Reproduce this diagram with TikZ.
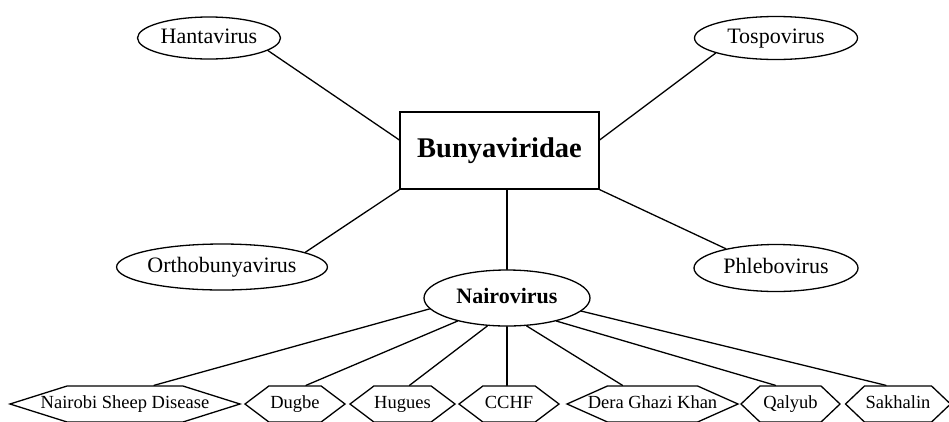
\documentclass[tikz,border=0pt]{standalone}
\usepackage{fontspec}
\setmainfont{Liberation Serif}
\usetikzlibrary{shapes.geometric,shapes.symbols}
\tikzset{
  link/.style={
    line width=1.3pt,
    line cap=round,
    line join=round
  },
  virus-node/.style={ellipse, draw=black, line width=1.3pt, inner sep=0pt,
    text height=15pt, text depth=4pt,
    font=\fontsize{22}{24}\selectfont},
  family-node/.style={rectangle, draw=black, line width=1.3pt, inner sep=0pt,
    minimum width=199pt, minimum height=77pt,
    font=\fontsize{28.5}{30}\selectfont\bfseries},
  strain-node/.style={signal, signal to=west and east, draw=black, line width=1.3pt,
    inner sep=0pt, minimum height=36pt, text height=13pt, text depth=4pt,
    font=\fontsize{18.5}{20}\selectfont}
}
% label of zero width, so the hexagon is sized by minimum width only
\newcommand{\strainlabel}[1]{\makebox[0pt]{#1}}

\begin{document}
\begin{tikzpicture}[x=1pt, y=-1pt]
  \useasboundingbox (0,0) rectangle (949,421);
  % Family
  \node[family-node] (bunya) at (499.5,150.5) {Bunyaviridae};
  % Genera
  \node[virus-node, minimum width=143pt, minimum height=42pt] (hanta) at (209,38) {Hantavirus};
  \node[virus-node, minimum width=163pt, minimum height=43pt] (tospo) at (776,38) {Tospovirus};
  \node[virus-node, minimum width=170pt, minimum height=46pt] (ortho) at (222,267) {Orthobunyavirus};
  \node[virus-node, minimum width=164pt, minimum height=47pt] (phlebo) at (776,268) {Phlebovirus};
  \node[virus-node, minimum width=166pt, minimum height=56pt,
    font=\fontsize{22}{24}\selectfont\bfseries] (nairo) at (507,298) {Nairovirus};
  % Strains
  \node[strain-node, minimum width=230pt, signal pointer angle=35] (nsd) at (125,404) {\strainlabel{Nairobi Sheep Disease}};
  \node[strain-node, minimum width=100pt, signal pointer angle=74] (dugbe) at (295,404) {\strainlabel{Dugbe}};
  \node[strain-node, minimum width=105pt, signal pointer angle=74] (hugues) at (402.5,404) {\strainlabel{Hugues}};
  \node[strain-node, minimum width=100pt, signal pointer angle=74] (cchf) at (509,404) {\strainlabel{CCHF}};
  \node[strain-node, minimum width=171pt, signal pointer angle=48] (dera) at (652.5,404) {\strainlabel{Dera Ghazi Khan}};
  \node[strain-node, minimum width=99pt, signal pointer angle=87] (qalyub) at (790.5,404) {\strainlabel{Qalyub}};
  \node[strain-node, minimum width=105pt, signal pointer angle=87] (sakh) at (898,404) {\strainlabel{Sakhalin}};
  % Links
  \draw[link] (hanta.-12) -- (bunya.174);
  \draw[link] (tospo.194) -- (bunya.6);
  \draw[link] (ortho.10) -- (bunya.south west);
  \draw[link] (phlebo.159) -- (bunya.south east);
  \draw[link] (nairo.north) -- (nairo.north |- bunya.south);
  \foreach \s/\dx/\a in {nsd/29/188, dugbe/11/205, hugues/7/235, cchf/-2/270, dera/-30/305, qalyub/-15/335, sakh/-12/350}
    \draw[link] (nairo.\a) -- ([xshift=\dx pt]\s.north);
\end{tikzpicture}
\end{document}
